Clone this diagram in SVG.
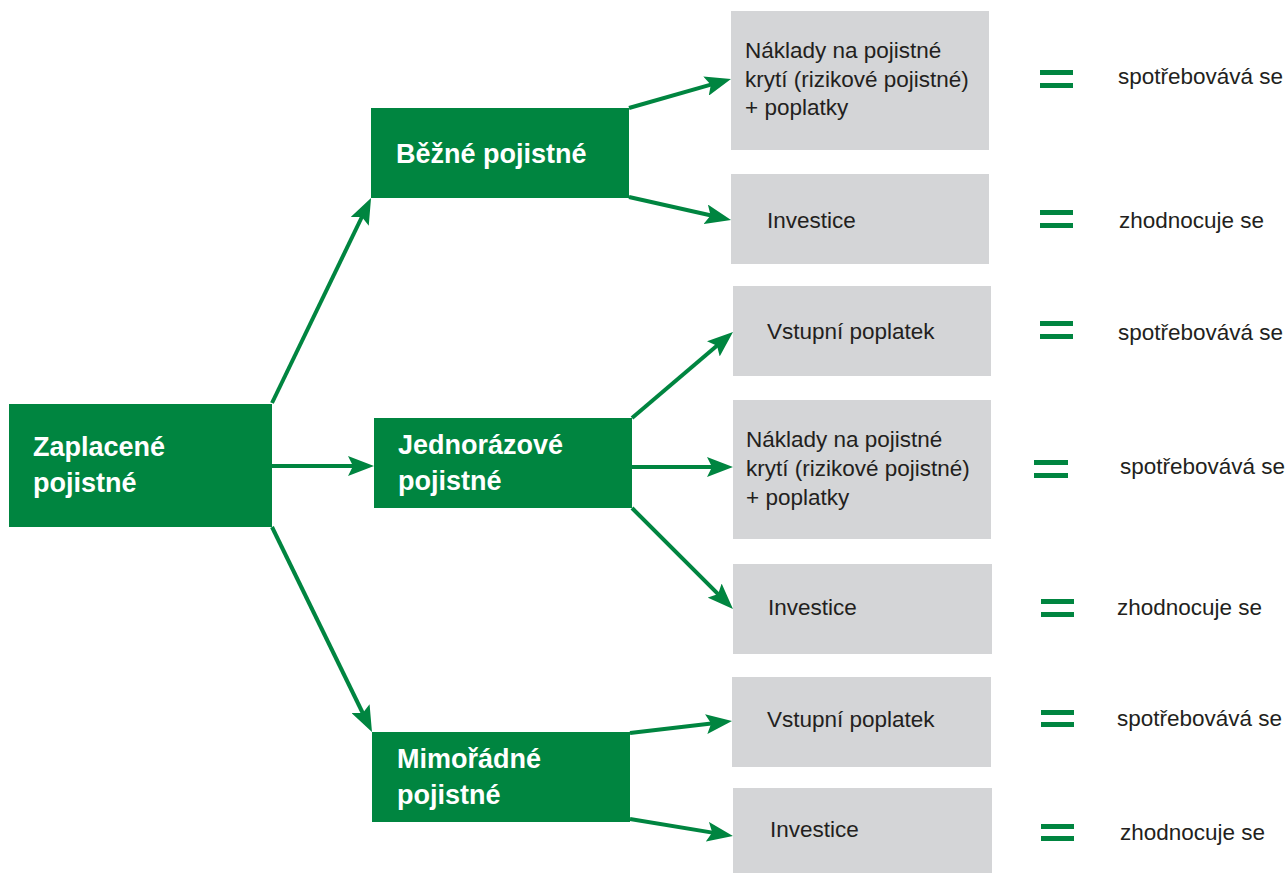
<svg xmlns="http://www.w3.org/2000/svg" width="1287" height="873" viewBox="0 0 1287 873">
<defs>
<style>
.g{fill:#008540}
.b{fill:#d4d5d7}
.wt{font-family:"Liberation Sans",Arial,sans-serif;font-weight:bold;font-size:27px;fill:#ffffff}
.t{font-family:"Liberation Sans",Arial,sans-serif;font-size:22.5px;fill:#231f20}
.c{stroke:#008540;stroke-width:4;fill:none;marker-end:url(#ah)}
.eq{fill:#008540}
</style>
<marker id="ah" markerUnits="userSpaceOnUse" viewBox="0 0 26 20" markerWidth="26" markerHeight="20" refX="16" refY="10" orient="auto">
<path d="M0,0 L26,10 L0,20 L5,10 z" fill="#008540"/>
</marker>
</defs>
<rect width="1287" height="873" fill="#ffffff"/>
<g id="connectors">
<line class="c" x1="272" y1="403" x2="366.7" y2="207"/>
<line class="c" x1="272" y1="466" x2="364" y2="466"/>
<line class="c" x1="272" y1="527" x2="367.6" y2="723"/>
<line class="c" x1="629" y1="108" x2="721.4" y2="81.7"/>
<line class="c" x1="629" y1="197" x2="721.3" y2="217.8"/>
<line class="c" x1="632" y1="418" x2="725.4" y2="338.5"/>
<line class="c" x1="632" y1="467" x2="723" y2="467"/>
<line class="c" x1="632" y1="508" x2="725.9" y2="601.9"/>
<line class="c" x1="630" y1="733" x2="722.1" y2="722.2"/>
<line class="c" x1="630" y1="819" x2="723.1" y2="834.4"/>
</g>
<g id="zaplacene">
<rect class="g" x="9" y="404" width="263" height="123"/>
<text class="wt" x="33" y="456">Zaplacené</text>
<text class="wt" x="33" y="492">pojistné</text>
</g>
<g id="bezne">
<rect class="g" x="371" y="108" width="258" height="90"/>
<text class="wt" x="396" y="163">Běžné pojistné</text>
</g>
<g id="jednorazove">
<rect class="g" x="374" y="418" width="258" height="90"/>
<text class="wt" x="398" y="454">Jednorázové</text>
<text class="wt" x="398" y="490">pojistné</text>
</g>
<g id="mimoradne">
<rect class="g" x="372" y="732" width="258" height="90"/>
<text class="wt" x="397" y="768">Mimořádné</text>
<text class="wt" x="397" y="804">pojistné</text>
</g>
<g id="bezne-naklady">
<rect class="b" x="731" y="11" width="258" height="139"/>
<text class="t" x="745" y="58">Náklady na pojistné</text>
<text class="t" x="745" y="87">krytí (rizikové pojistné)</text>
<text class="t" x="745" y="115">+ poplatky</text>
</g>
<g id="bezne-investice">
<rect class="b" x="731" y="174" width="258" height="90"/>
<text class="t" x="767" y="228">Investice</text>
</g>
<g id="jedn-vstupni">
<rect class="b" x="733" y="286" width="258" height="90"/>
<text class="t" x="767" y="339">Vstupní poplatek</text>
</g>
<g id="jedn-naklady">
<rect class="b" x="733" y="400" width="258" height="139"/>
<text class="t" x="746" y="447">Náklady na pojistné</text>
<text class="t" x="746" y="476">krytí (rizikové pojistné)</text>
<text class="t" x="746" y="505">+ poplatky</text>
</g>
<g id="jedn-investice">
<rect class="b" x="733" y="564" width="259" height="90"/>
<text class="t" x="768" y="615">Investice</text>
</g>
<g id="mimo-vstupni">
<rect class="b" x="732" y="677" width="259" height="90"/>
<text class="t" x="767" y="727">Vstupní poplatek</text>
</g>
<g id="mimo-investice">
<rect class="b" x="733" y="788" width="259" height="85"/>
<text class="t" x="770" y="837">Investice</text>
</g>
<g id="results">
<rect class="eq" x="1040" y="70" width="33" height="5"/><rect class="eq" x="1040" y="83" width="33" height="5"/>
<text class="t" x="1118" y="84">spotřebovává se</text>
<rect class="eq" x="1040" y="210" width="33" height="5"/><rect class="eq" x="1040" y="223" width="33" height="5"/>
<text class="t" x="1119" y="228">zhodnocuje se</text>
<rect class="eq" x="1040" y="321" width="33" height="5"/><rect class="eq" x="1040" y="334" width="33" height="5"/>
<text class="t" x="1118" y="340">spotřebovává se</text>
<rect class="eq" x="1034" y="460" width="34" height="5"/><rect class="eq" x="1034" y="473" width="34" height="5"/>
<text class="t" x="1120" y="474">spotřebovává se</text>
<rect class="eq" x="1041" y="599" width="33" height="5"/><rect class="eq" x="1041" y="612" width="33" height="5"/>
<text class="t" x="1117" y="615">zhodnocuje se</text>
<rect class="eq" x="1041" y="710" width="33" height="5"/><rect class="eq" x="1041" y="722" width="33" height="5"/>
<text class="t" x="1117" y="726">spotřebovává se</text>
<rect class="eq" x="1041" y="824" width="33" height="5"/><rect class="eq" x="1041" y="836" width="33" height="5"/>
<text class="t" x="1120" y="840">zhodnocuje se</text>
</g>
</svg>
